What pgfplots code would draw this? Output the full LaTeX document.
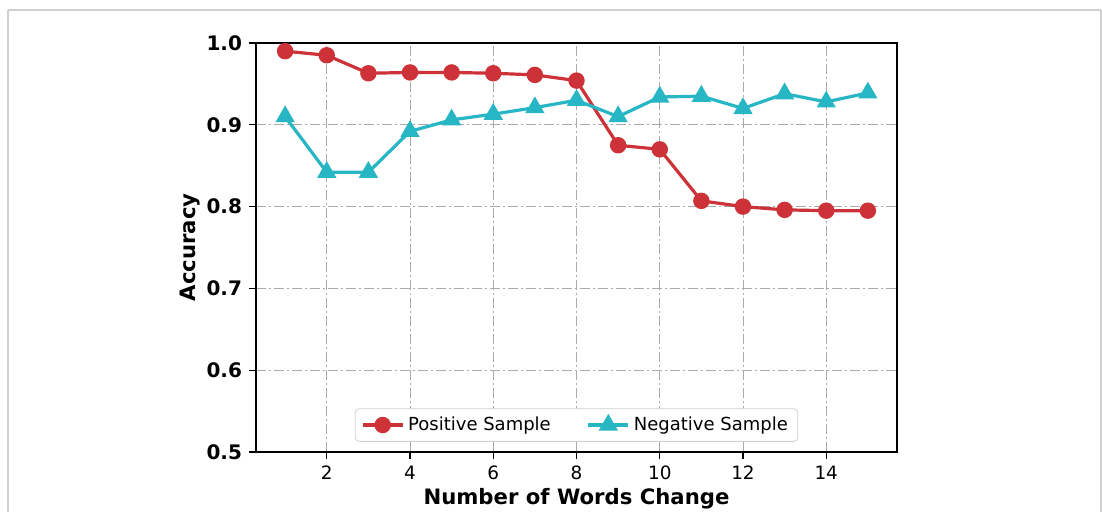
\documentclass[border=0pt]{standalone}
\usepackage{fontspec}
\setmainfont{DejaVu Sans}
\usepackage{pgfplots}
\pgfplotsset{compat=1.18}
\definecolor{posred}{RGB}{205,50,57}
\definecolor{negcyan}{RGB}{38,182,196}
\definecolor{gridgray}{RGB}{170,170,170}
\definecolor{framegray}{RGB}{208,208,208}
\begin{document}
\begin{tikzpicture}
\useasboundingbox (0pt,0pt) rectangle (551pt,-256pt);
\draw[framegray, line width=1pt] (4pt,-5pt) -- (550.5pt,-5pt);
\draw[framegray, line width=1pt] (4pt,-5pt) -- (4pt,-265pt);
\draw[framegray, line width=1pt] (550.5pt,-5pt) -- (550.5pt,-265pt);
\begin{axis}[
  at={(128pt,-226pt)}, anchor=south west,
  scale only axis, width=320.5pt, height=204.5pt,
  xmin=0.3, xmax=15.7, ymin=0.5, ymax=1.0,
  xtick={2,4,6,8,10,12,14},
  ytick={0.5,0.6,0.7,0.8,0.9,1.0},
  yticklabels={0.5,0.6,0.7,0.8,0.9,1.0},
  xticklabels={2,4,6,8,10,12,14},
  /pgf/number format/assume math mode=true,
  yticklabel style={font=\fontsize{10}{12}\selectfont\bfseries},
  xticklabel style={font=\fontsize{9.2}{11}\selectfont},
  xtick pos=left, ytick pos=left,
  axis line style={line width=0.6pt},
  tick align=outside, major tick length=3.5pt,
  tick style={line width=0.6pt, black},
  grid=major,
  major grid style={gridgray, line width=0.45pt, dash pattern=on 5pt off 1.5pt on 1pt off 1.5pt},
  xlabel={\bfseries Number of Words Change},
  ylabel={\bfseries Accuracy},
  label style={font=\fontsize{10.6}{12}\selectfont},
  xlabel style={yshift=2.5pt},
  ylabel style={yshift=-3.5pt},
  legend columns=2,
  legend style={at={(0.5,0.025)}, anchor=south, draw=framegray, rounded corners=2pt,
    font=\fontsize{9}{11}\selectfont, inner xsep=3pt, inner ysep=2pt,
    /tikz/every even column/.append style={column sep=16pt}},
  legend image code/.code={
    \draw[#1, mark=none] (0cm,0cm) -- (0.7cm,0cm);
    \draw[#1, only marks] plot coordinates {(0.35cm,0cm)};
  },
]
\addplot[posred, line width=1.6pt, mark=*, mark size=3.3pt, mark options={solid, fill=posred, draw=posred}] coordinates {
(1,0.990) (2,0.985) (3,0.963) (4,0.964) (5,0.964) (6,0.963) (7,0.961) (8,0.954)
(9,0.875) (10,0.870) (11,0.807) (12,0.800) (13,0.796) (14,0.795) (15,0.795)};
\addlegendentry{Positive Sample}
\addplot[negcyan, line width=1.6pt, mark=triangle*, mark size=4pt, mark options={solid, fill=negcyan, draw=negcyan}] coordinates {
(1,0.910) (2,0.842) (3,0.842) (4,0.892) (5,0.906) (6,0.913) (7,0.921) (8,0.930)
(9,0.910) (10,0.934) (11,0.935) (12,0.920) (13,0.938) (14,0.928) (15,0.939)};
\addlegendentry{Negative Sample}
\end{axis}
\end{tikzpicture}
\end{document}
